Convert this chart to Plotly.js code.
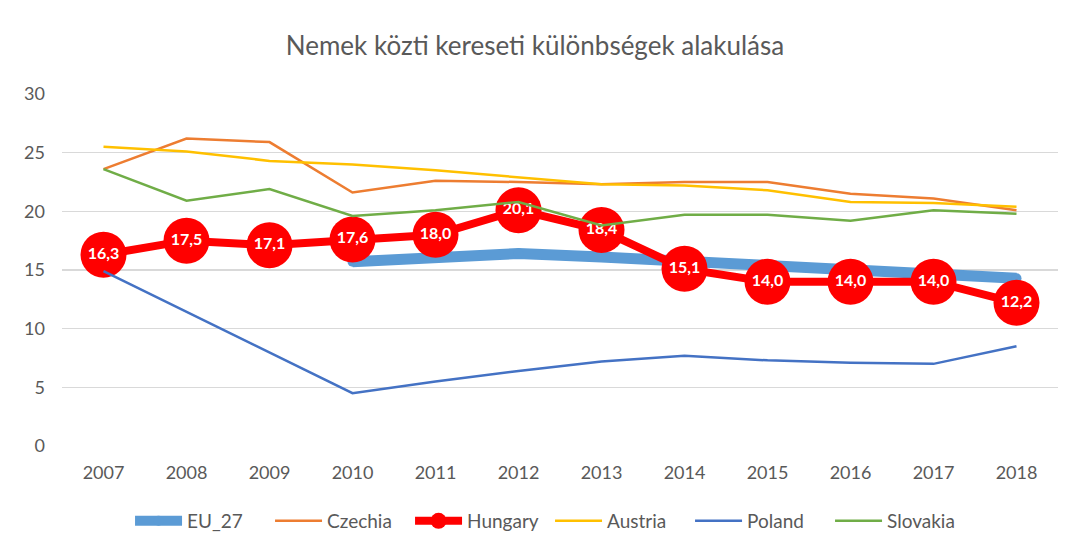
<!DOCTYPE html>
<html>
<head>
<meta charset="utf-8">
<script src="https://cdn.plot.ly/plotly-3.0.1.min.js"></script>
<style>html,body{margin:0;padding:0;background:#fff;}#chart{width:1070px;height:539px;}</style>
</head>
<body>
<div id="chart"></div>
<script>
const years = ['2007','2008','2009','2010','2011','2012','2013','2014','2015','2016','2017','2018'];
const eu27 = [null, null, null, 15.7, 16.1, 16.4, 16.1, 15.7, 15.4, 15.1, 14.7, 14.3];
const czechia = [23.6, 26.2, 25.9, 21.6, 22.6, 22.5, 22.3, 22.5, 22.5, 21.5, 21.1, 20.1];
const hungary = [16.3, 17.5, 17.1, 17.6, 18.0, 20.1, 18.4, 15.1, 14.0, 14.0, 14.0, 12.2];
const austria = [25.5, 25.1, 24.3, 24.0, 23.5, 22.9, 22.3, 22.2, 21.8, 20.8, 20.7, 20.4];
const poland = [14.9, null, null, 4.5, 5.5, 6.4, 7.2, 7.7, 7.3, 7.1, 7.0, 8.5];
const slovakia = [23.6, 20.9, 21.9, 19.6, 20.1, 20.8, 18.8, 19.7, 19.7, 19.2, 20.1, 19.8];

const FONT = 'Lato, "Open Sans", sans-serif';
const GREY = '#595959';

const traces = [
  {name:'EU_27', x:years, y:eu27, mode:'lines+markers', line:{color:'#5B9BD5', width:11}, marker:{color:'#5B9BD5', size:10}},
  {name:'Czechia', x:years, y:czechia, mode:'lines', line:{color:'#ED7D31', width:2.5}},
  {name:'Hungary', x:years, y:hungary, mode:'lines+markers+text', line:{color:'#FF0000', width:8},
   marker:{color:'#FF0000', size:46},
   text: hungary.map(v => v.toFixed(1).replace('.', ',')), textposition:'middle center',
   textfont:{color:'#FFFFFF', size:16, family:FONT, weight:'bold'}},
  {name:'Austria', x:years, y:austria, mode:'lines', line:{color:'#FFC000', width:2.5}},
  {name:'Poland', x:years, y:poland, mode:'lines', connectgaps:true, line:{color:'#4472C4', width:2.5}},
  {name:'Slovakia', x:years, y:slovakia, mode:'lines', line:{color:'#70AD47', width:2.5}}
];

const layout = {
  width:1070, height:539,
  paper_bgcolor:'#fff', plot_bgcolor:'#fff',
  margin:{l:62, r:12, t:94, b:93, autoexpand:false},
  title:{text:'Nemek közti kereseti különbségek alakulása', x:0.5, xanchor:'center', y:0.915, yanchor:'middle',
         font:{family:FONT, size:26, color:GREY}},
  font:{family:FONT, color:GREY},
  showlegend:true,
  legend:{orientation:'h', x:0.49, xanchor:'center', y:-0.213, yanchor:'middle',
          font:{family:FONT, size:19, color:GREY}, itemwidth:47, tracegroupgap:0,
          entrywidth:78, entrywidthmode:'pixels'},
  xaxis:{type:'category', range:[-0.5, 11.5], showgrid:false, zeroline:false, showline:false, ticks:'',
         tickfont:{family:FONT, size:18, color:GREY}, ticklabelstandoff:14},
  yaxis:{range:[0,30], dtick:5, showgrid:true, gridcolor:'#D9D9D9', gridwidth:1.3, zeroline:false,
         showline:false, ticks:'', tickfont:{family:FONT, size:18, color:GREY}, ticklabelstandoff:16}
};

Plotly.newPlot('chart', traces, layout, {displayModeBar:false, staticPlot:true});
</script>
</body>
</html>
